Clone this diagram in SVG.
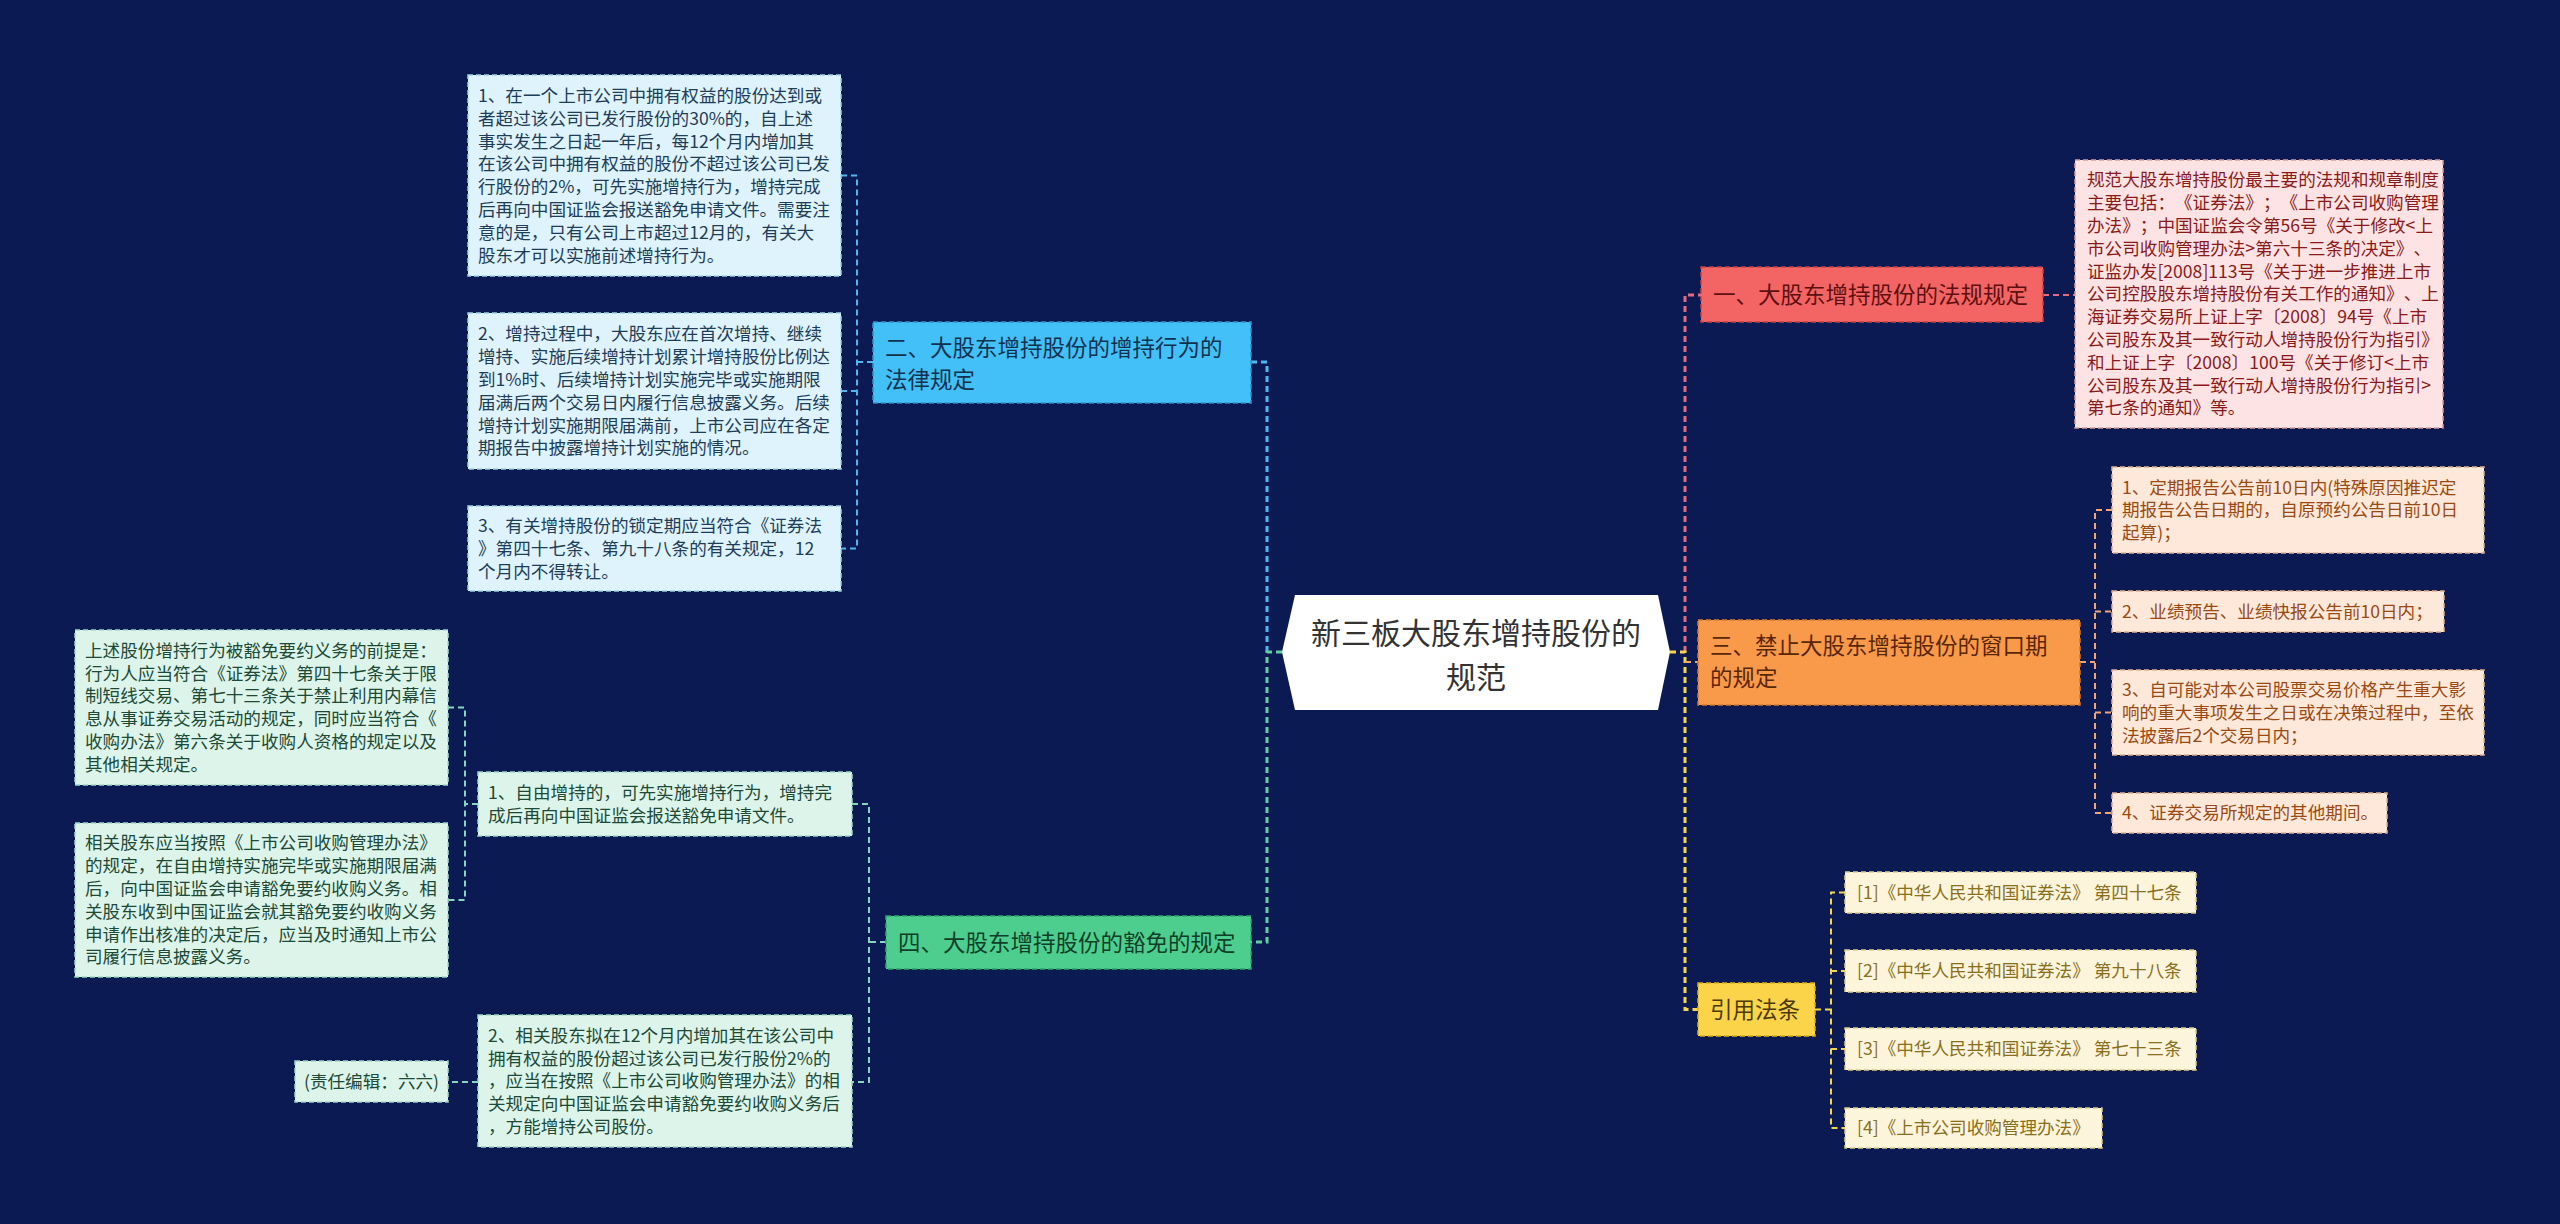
<svg xmlns="http://www.w3.org/2000/svg" width="2560" height="1224" viewBox="0 0 2560 1224">
<style>
text{font-family:"Noto Sans CJK SC","Noto Sans",sans-serif;text-spacing-trim:space-all;font-feature-settings:"chws" 0,"halt" 0;}
.t{font-size:17.6px;}
.b{font-size:22.5px;}
.c{fill:none;stroke-width:2;stroke-dasharray:6 4;}
.trunk{fill:none;stroke-width:3;stroke-dasharray:6 4;}
.box{stroke-width:1.5;stroke-dasharray:5 3;}
.cb{stroke:#4fb8f0;} .cg{stroke:#5fcfa0;} .ct{stroke:#86d6c2;} .cr{stroke:#e46a80;} .co{stroke:#f3a572;} .cy{stroke:#f5d54b;}
.blue{fill:#42c0f7;stroke:#2a94c8;} .blueT{fill:#10324f;}
.lb{fill:#def3fb;stroke:#9fcfe6;} .lbT{fill:#1e3d58;}
.green{fill:#4dce8e;stroke:#2fa56c;} .greenT{fill:#0f3f28;}
.lg{fill:#dcf4ea;stroke:#9fd6c2;} .lgT{fill:#1c4a36;}
.red{fill:#f36464;stroke:#c84040;} .redT{fill:#5e1010;}
.pink{fill:#fde3e3;stroke:#d89a9a;} .pinkT{fill:#8a1a1a;}
.orange{fill:#f99a4b;stroke:#d07a30;} .orangeT{fill:#5a2608;}
.lo{fill:#fde8da;stroke:#e0b090;} .loT{fill:#9a4a12;}
.yellow{fill:#fbd44a;stroke:#d8ae20;} .yellowT{fill:#4a3a08;}
.ly{fill:#fcf5db;stroke:#dccb8a;} .lyT{fill:#8a6f1c;}
</style>
<rect x="0" y="0" width="2560" height="1224" fill="#0b1a53"/>

<g id="connectors">
  <path class="trunk cb" d="M1267,652 V362 H1251"/>
  <path class="trunk cg" d="M1282,652 H1267 V942 H1251"/>
  <path class="trunk cr" d="M1685,652 V295 H1701"/>
  <path class="trunk cy" d="M1670,652 H1685 V1009.5 H1698"/>
  <path class="c co" d="M1685,662 H1698"/>
  <path class="c cb" d="M873,362 H857 M841,175.5 H857 V548.5 H841 M857,391 H841"/>
  <path class="c ct" d="M886,942 H869 M852,804 H869 V1082 H852"/>
  <path class="c ct" d="M478,804 H465 M448,707.5 H465 V900 H448"/>
  <path class="c ct" d="M478,1082 H448"/>
  <path class="c cr" d="M2043,295 H2075"/>
  <path class="c co" d="M2080,662 H2095 M2112,510 H2095 V813 H2112 M2095,611.5 H2112 M2095,712.5 H2112"/>
  <path class="c cy" d="M1815,1009.5 H1831 M1845,892.5 H1831 V1128 H1845 M1831,971 H1845 M1831,1049 H1845"/>
</g>

<g id="root">
  <polygon points="1282,652 1295,595 1658,595 1670,652 1658,710 1295,710" fill="#ffffff"/>
  <text x="1476" y="644" font-size="30" fill="#333333" text-anchor="middle">新三板大股东增持股份的</text>
  <text x="1476" y="688" font-size="30" fill="#333333" text-anchor="middle">规范</text>
</g>

<g id="n2">
  <rect class="box blue" x="873" y="322" width="378" height="81"/>
  <text class="b blueT"><tspan x="885" y="356">二、大股东增持股份的增持行为的</tspan><tspan x="885" y="388">法律规定</tspan></text>
</g>
<g id="n2-1">
  <rect class="box lb" x="468" y="75" width="373" height="201"/>
  <text class="t lbT"><tspan x="478" y="102">1、在一个上市公司中拥有权益的股份达到或</tspan><tspan x="478" y="124.8">者超过该公司已发行股份的30%的，自上述</tspan><tspan x="478" y="147.6">事实发生之日起一年后，每12个月内增加其</tspan><tspan x="478" y="170.4">在该公司中拥有权益的股份不超过该公司已发</tspan><tspan x="478" y="193.2">行股份的2%，可先实施增持行为，增持完成</tspan><tspan x="478" y="216">后再向中国证监会报送豁免申请文件。需要注</tspan><tspan x="478" y="238.8">意的是，只有公司上市超过12月的，有关大</tspan><tspan x="478" y="261.6">股东才可以实施前述增持行为。</tspan></text>
</g>
<g id="n2-2">
  <rect class="box lb" x="468" y="313" width="373" height="156"/>
  <text class="t lbT"><tspan x="478" y="340.3">2、增持过程中，大股东应在首次增持、继续</tspan><tspan x="478" y="363.1">增持、实施后续增持计划累计增持股份比例达</tspan><tspan x="478" y="385.9">到1%时、后续增持计划实施完毕或实施期限</tspan><tspan x="478" y="408.7">届满后两个交易日内履行信息披露义务。后续</tspan><tspan x="478" y="431.5">增持计划实施期限届满前，上市公司应在各定</tspan><tspan x="478" y="454.3">期报告中披露增持计划实施的情况。</tspan></text>
</g>
<g id="n2-3">
  <rect class="box lb" x="468" y="506" width="373" height="85"/>
  <text class="t lbT"><tspan x="478" y="532">3、有关增持股份的锁定期应当符合《证券法</tspan><tspan x="478" y="554.8">》第四十七条、第九十八条的有关规定，12</tspan><tspan x="478" y="577.6">个月内不得转让。</tspan></text>
</g>

<g id="n4">
  <rect class="box green" x="886" y="916" width="365" height="53"/>
  <text class="b greenT" x="898" y="951">四、大股东增持股份的豁免的规定</text>
</g>
<g id="n4-1">
  <rect class="box lg" x="478" y="772" width="374" height="64"/>
  <text class="t lgT"><tspan x="488" y="798.9">1、自由增持的，可先实施增持行为，增持完</tspan><tspan x="488" y="821.7">成后再向中国证监会报送豁免申请文件。</tspan></text>
</g>
<g id="n4-1-1">
  <rect class="box lg" x="75" y="630" width="373" height="155"/>
  <text class="t lgT"><tspan x="85" y="656.8">上述股份增持行为被豁免要约义务的前提是：</tspan><tspan x="85" y="679.6">行为人应当符合《证券法》第四十七条关于限</tspan><tspan x="85" y="702.4">制短线交易、第七十三条关于禁止利用内幕信</tspan><tspan x="85" y="725.2">息从事证券交易活动的规定，同时应当符合《</tspan><tspan x="85" y="748">收购办法》第六条关于收购人资格的规定以及</tspan><tspan x="85" y="770.8">其他相关规定。</tspan></text>
</g>
<g id="n4-1-2">
  <rect class="box lg" x="75" y="823" width="373" height="154"/>
  <text class="t lgT"><tspan x="85" y="849.3">相关股东应当按照《上市公司收购管理办法》</tspan><tspan x="85" y="872.1">的规定，在自由增持实施完毕或实施期限届满</tspan><tspan x="85" y="894.9">后，向中国证监会申请豁免要约收购义务。相</tspan><tspan x="85" y="917.7">关股东收到中国证监会就其豁免要约收购义务</tspan><tspan x="85" y="940.5">申请作出核准的决定后，应当及时通知上市公</tspan><tspan x="85" y="963.3">司履行信息披露义务。</tspan></text>
</g>
<g id="n4-2">
  <rect class="box lg" x="478" y="1015" width="374" height="132"/>
  <text class="t lgT"><tspan x="488" y="1041.7">2、相关股东拟在12个月内增加其在该公司中</tspan><tspan x="488" y="1064.5">拥有权益的股份超过该公司已发行股份2%的</tspan><tspan x="488" y="1087.3">，应当在按照《上市公司收购管理办法》的相</tspan><tspan x="488" y="1110.1">关规定向中国证监会申请豁免要约收购义务后</tspan><tspan x="488" y="1132.9">，方能增持公司股份。</tspan></text>
</g>
<g id="n4-2-1">
  <rect class="box lg" x="295" y="1061" width="153" height="41"/>
  <text class="t lgT" x="371.5" y="1087.8" text-anchor="middle">(责任编辑：六六)</text>
</g>

<g id="n1">
  <rect class="box red" x="1701" y="267" width="342" height="55"/>
  <text class="b redT" x="1713" y="303">一、大股东增持股份的法规规定</text>
</g>
<g id="n1-1">
  <rect class="box pink" x="2075" y="160" width="368" height="268"/>
  <text class="t pinkT"><tspan x="2087" y="186.3">规范大股东增持股份最主要的法规和规章制度</tspan><tspan x="2087" y="209.1">主要包括：《证券法》；《上市公司收购管理</tspan><tspan x="2087" y="231.9">办法》；中国证监会令第56号《关于修改&lt;上</tspan><tspan x="2087" y="254.7">市公司收购管理办法&gt;第六十三条的决定》、</tspan><tspan x="2087" y="277.5">证监办发[2008]113号《关于进一步推进上市</tspan><tspan x="2087" y="300.3">公司控股股东增持股份有关工作的通知》、上</tspan><tspan x="2087" y="323.1">海证券交易所上证上字〔2008〕94号《上市</tspan><tspan x="2087" y="345.9">公司股东及其一致行动人增持股份行为指引》</tspan><tspan x="2087" y="368.7">和上证上字〔2008〕100号《关于修订&lt;上市</tspan><tspan x="2087" y="391.5">公司股东及其一致行动人增持股份行为指引&gt;</tspan><tspan x="2087" y="414.3">第七条的通知》等。</tspan></text>
</g>

<g id="n3">
  <rect class="box orange" x="1698" y="620" width="382" height="85"/>
  <text class="b orangeT"><tspan x="1710" y="654">三、禁止大股东增持股份的窗口期</tspan><tspan x="1710" y="686">的规定</tspan></text>
</g>
<g id="n3-1">
  <rect class="box lo" x="2112" y="467" width="372" height="86"/>
  <text class="t loT"><tspan x="2122" y="493.5">1、定期报告公告前10日内(特殊原因推迟定</tspan><tspan x="2122" y="516.3">期报告公告日期的，自原预约公告日前10日</tspan><tspan x="2122" y="539.1">起算)；</tspan></text>
</g>
<g id="n3-2">
  <rect class="box lo" x="2112" y="591" width="332" height="41"/>
  <text class="t loT" x="2122" y="617.8">2、业绩预告、业绩快报公告前10日内；</text>
</g>
<g id="n3-3">
  <rect class="box lo" x="2112" y="670" width="372" height="85"/>
  <text class="t loT"><tspan x="2122" y="696">3、自可能对本公司股票交易价格产生重大影</tspan><tspan x="2122" y="718.8">响的重大事项发生之日或在决策过程中，至依</tspan><tspan x="2122" y="741.6">法披露后2个交易日内；</tspan></text>
</g>
<g id="n3-4">
  <rect class="box lo" x="2112" y="793" width="275" height="40"/>
  <text class="t loT" x="2122" y="819.3">4、证券交易所规定的其他期间。</text>
</g>

<g id="n5">
  <rect class="box yellow" x="1698" y="983" width="117" height="53"/>
  <text class="b yellowT" x="1710" y="1017.5">引用法条</text>
</g>
<g id="n5-1">
  <rect class="box ly" x="1845" y="872" width="351" height="41"/>
  <text class="t lyT" x="1857" y="898.8">[1]《中华人民共和国证券法》 第四十七条</text>
</g>
<g id="n5-2">
  <rect class="box ly" x="1845" y="950" width="351" height="42"/>
  <text class="t lyT" x="1857" y="977.3">[2]《中华人民共和国证券法》 第九十八条</text>
</g>
<g id="n5-3">
  <rect class="box ly" x="1845" y="1028" width="351" height="42"/>
  <text class="t lyT" x="1857" y="1055.3">[3]《中华人民共和国证券法》 第七十三条</text>
</g>
<g id="n5-4">
  <rect class="box ly" x="1845" y="1108" width="257" height="40"/>
  <text class="t lyT" x="1857" y="1134.3">[4]《上市公司收购管理办法》</text>
</g>
</svg>
